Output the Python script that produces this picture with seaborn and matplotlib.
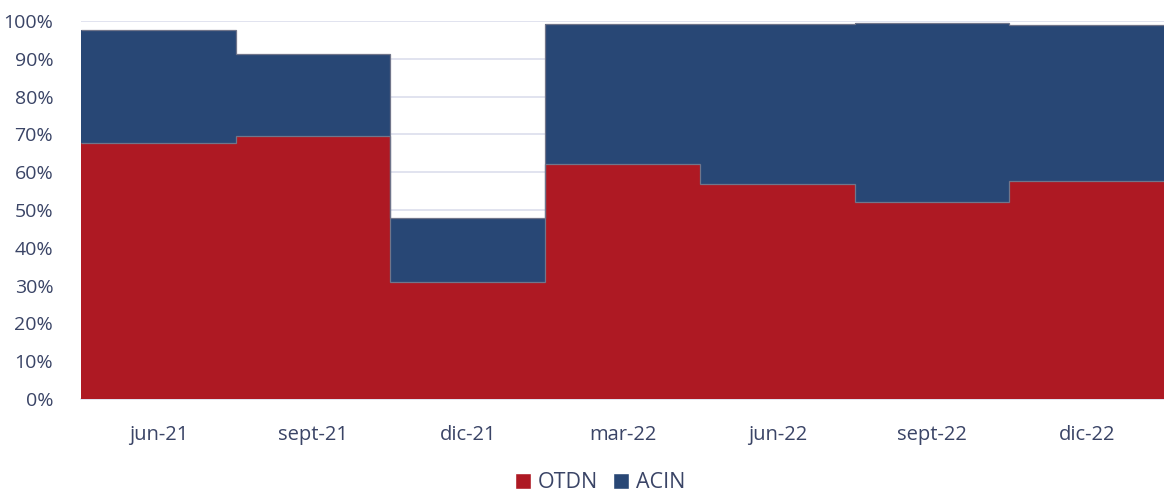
import matplotlib
matplotlib.use("Agg")
import matplotlib.pyplot as plt
import seaborn as sns
import numpy as np
import pandas as pd
from matplotlib.patches import Patch

quarters = ["jun-21", "sept-21", "dic-21", "mar-22", "jun-22", "sept-22", "dic-22"]
otdn = [67.6, 69.7, 30.9, 62.2, 56.8, 52.0, 57.6]
acin = [30.1, 21.5, 17.0, 37.0, 42.3, 47.4, 41.4]

red = "#ae1923"
blue = "#284775"
text_col = "#3a4466"
grid_col = "#dcdeec"
edge_col = "#70758a"

sns.set_style("white")
plt.rcParams["font.family"] = ["Open Sans", "DejaVu Sans"]

df = pd.DataFrame({"quarter": quarters, "OTDN": otdn, "ACIN": acin})
df["total"] = df["OTDN"] + df["ACIN"]

fig = plt.figure(figsize=(11.64, 4.92), dpi=100)
ax = fig.add_axes([81 / 1164, 1 - 399 / 492, 1 - 81 / 1164, 378 / 492])

sns.barplot(data=df, x="quarter", y="total", color=blue, width=1.0,
            linewidth=0, saturation=1, ax=ax, zorder=2)
sns.barplot(data=df, x="quarter", y="OTDN", color=red, width=1.0,
            linewidth=0, saturation=1, ax=ax, zorder=3)

# thin outlines along the tops of each stacked layer
edges = np.arange(len(quarters) + 1) - 0.5
ax.stairs(df["total"], edges, baseline=None, color=edge_col, linewidth=0.9, zorder=4)
ax.stairs(df["OTDN"], edges, baseline=None, color=edge_col, linewidth=0.9, zorder=4)

ax.set_ylim(0, 100)
ax.set_xlim(-0.5, len(quarters) - 0.5)
ax.set_yticks(range(0, 101, 10))
ax.set_yticklabels([f"{v}%" for v in range(0, 101, 10)])
ax.yaxis.grid(True, color=grid_col, linewidth=1.2, zorder=0)
ax.set_axisbelow(True)

ax.set_xticks(edges, minor=True)
ax.tick_params(axis="x", which="minor", length=8, width=1.2, color=grid_col)
ax.tick_params(axis="x", which="major", length=0, pad=19, labelsize=14.5, labelcolor=text_col)
ax.tick_params(axis="y", length=0, pad=20, labelsize=14, labelcolor=text_col)

ax.set_xlabel("")
ax.set_ylabel("")
for s in ["top", "right", "left"]:
    ax.spines[s].set_visible(False)
ax.spines["bottom"].set_color(grid_col)
ax.spines["bottom"].set_linewidth(1.2)

handles = [Patch(facecolor=red, label="OTDN"), Patch(facecolor=blue, label="ACIN")]
fig.legend(handles=handles, loc="center", bbox_to_anchor=(600 / 1164, 1 - 483 / 492), ncol=2,
           frameon=False, fontsize=15.5, labelcolor=text_col, handlelength=0.75,
           handleheight=0.75, handletextpad=0.3, columnspacing=0.7)

fig.savefig("out.png", dpi=100)
